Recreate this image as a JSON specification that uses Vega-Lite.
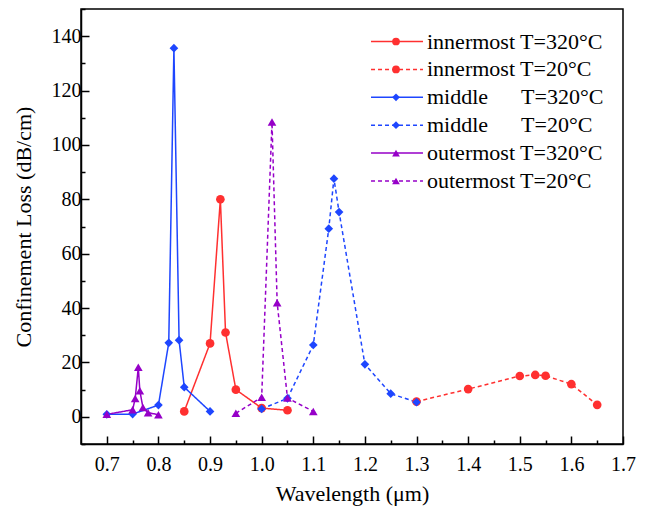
{
  "$schema": "https://vega.github.io/schema/vega-lite/v6.json",
  "width": 542,
  "height": 435,
  "autosize": {"type": "none"},
  "padding": {"left": 81, "top": 9, "right": 23, "bottom": 70},
  "background": "white",
  "config": {
    "font": "Liberation Serif",
    "view": {"stroke": "#000", "strokeWidth": 1.5},
    "axis": {
      "domainColor": "#000", "domainWidth": 1.5,
      "tickColor": "#000", "tickWidth": 1.5,
      "labelColor": "#000", "titleColor": "#000",
      "labelFont": "Liberation Serif", "titleFont": "Liberation Serif",
      "labelFontSize": 20, "titleFontSize": 22, "titleFontWeight": "normal",
      "grid": false
    },
    "legend": {"labelFont": "Liberation Serif", "labelFontSize": 22, "labelLimit": 400, "labelColor": "#000"}
  },
  "data": {
    "values": [
      {"series": "innermost T=320°C", "wl": 0.85, "loss": 2.0},
      {"series": "innermost T=320°C", "wl": 0.90, "loss": 27.0},
      {"series": "innermost T=320°C", "wl": 0.92, "loss": 80.0},
      {"series": "innermost T=320°C", "wl": 0.93, "loss": 31.0},
      {"series": "innermost T=320°C", "wl": 0.95, "loss": 10.0},
      {"series": "innermost T=320°C", "wl": 1.00, "loss": 3.2},
      {"series": "innermost T=320°C", "wl": 1.05, "loss": 2.4},
      {"series": "innermost T=20°C", "wl": 1.30, "loss": 5.6},
      {"series": "innermost T=20°C", "wl": 1.40, "loss": 10.2},
      {"series": "innermost T=20°C", "wl": 1.50, "loss": 15.0},
      {"series": "innermost T=20°C", "wl": 1.53, "loss": 15.4},
      {"series": "innermost T=20°C", "wl": 1.55, "loss": 15.1},
      {"series": "innermost T=20°C", "wl": 1.60, "loss": 12.0},
      {"series": "innermost T=20°C", "wl": 1.65, "loss": 4.4},
      {"series": "middle\u00a0\u00a0\u00a0\u00a0\u00a0\u00a0T=320°C", "wl": 0.70, "loss": 0.9},
      {"series": "middle\u00a0\u00a0\u00a0\u00a0\u00a0\u00a0T=320°C", "wl": 0.75, "loss": 1.0},
      {"series": "middle\u00a0\u00a0\u00a0\u00a0\u00a0\u00a0T=320°C", "wl": 0.80, "loss": 4.3},
      {"series": "middle\u00a0\u00a0\u00a0\u00a0\u00a0\u00a0T=320°C", "wl": 0.82, "loss": 27.2},
      {"series": "middle\u00a0\u00a0\u00a0\u00a0\u00a0\u00a0T=320°C", "wl": 0.83, "loss": 135.6},
      {"series": "middle\u00a0\u00a0\u00a0\u00a0\u00a0\u00a0T=320°C", "wl": 0.84, "loss": 28.2},
      {"series": "middle\u00a0\u00a0\u00a0\u00a0\u00a0\u00a0T=320°C", "wl": 0.85, "loss": 10.9},
      {"series": "middle\u00a0\u00a0\u00a0\u00a0\u00a0\u00a0T=320°C", "wl": 0.90, "loss": 2.0},
      {"series": "middle\u00a0\u00a0\u00a0\u00a0\u00a0\u00a0T=20°C", "wl": 1.00, "loss": 2.9},
      {"series": "middle\u00a0\u00a0\u00a0\u00a0\u00a0\u00a0T=20°C", "wl": 1.05, "loss": 6.8},
      {"series": "middle\u00a0\u00a0\u00a0\u00a0\u00a0\u00a0T=20°C", "wl": 1.10, "loss": 26.4},
      {"series": "middle\u00a0\u00a0\u00a0\u00a0\u00a0\u00a0T=20°C", "wl": 1.13, "loss": 69.2},
      {"series": "middle\u00a0\u00a0\u00a0\u00a0\u00a0\u00a0T=20°C", "wl": 1.14, "loss": 87.6},
      {"series": "middle\u00a0\u00a0\u00a0\u00a0\u00a0\u00a0T=20°C", "wl": 1.15, "loss": 75.3},
      {"series": "middle\u00a0\u00a0\u00a0\u00a0\u00a0\u00a0T=20°C", "wl": 1.20, "loss": 19.3},
      {"series": "middle\u00a0\u00a0\u00a0\u00a0\u00a0\u00a0T=20°C", "wl": 1.25, "loss": 8.5},
      {"series": "middle\u00a0\u00a0\u00a0\u00a0\u00a0\u00a0T=20°C", "wl": 1.30, "loss": 5.4},
      {"series": "outermost T=320°C", "wl": 0.70, "loss": 0.9},
      {"series": "outermost T=320°C", "wl": 0.75, "loss": 2.6},
      {"series": "outermost T=320°C", "wl": 0.755, "loss": 6.7},
      {"series": "outermost T=320°C", "wl": 0.761, "loss": 18.2},
      {"series": "outermost T=320°C", "wl": 0.764, "loss": 9.6},
      {"series": "outermost T=320°C", "wl": 0.77, "loss": 3.4},
      {"series": "outermost T=320°C", "wl": 0.78, "loss": 1.5},
      {"series": "outermost T=320°C", "wl": 0.80, "loss": 0.8},
      {"series": "outermost T=20°C", "wl": 0.95, "loss": 1.3},
      {"series": "outermost T=20°C", "wl": 1.00, "loss": 7.2},
      {"series": "outermost T=20°C", "wl": 1.02, "loss": 108.4},
      {"series": "outermost T=20°C", "wl": 1.03, "loss": 42.0},
      {"series": "outermost T=20°C", "wl": 1.05, "loss": 6.9},
      {"series": "outermost T=20°C", "wl": 1.10, "loss": 2.0}
    ]
  },
  "encoding": {
    "x": {
      "field": "wl", "type": "quantitative",
      "scale": {"domain": [0.65, 1.7], "nice": false, "zero": false},
      "axis": {
        "title": "Wavelength (μm)",
        "values": [0.7, 0.75, 0.8, 0.85, 0.9, 0.95, 1.0, 1.05, 1.1, 1.15, 1.2, 1.25, 1.3, 1.35, 1.4, 1.45, 1.5, 1.55, 1.6, 1.65, 1.7],
        "labelExpr": "abs(round(datum.value*20)) % 2 == 0 ? format(datum.value, '.1f') : ''",
        "tickSize": {"condition": {"test": "abs(round(datum.value*20)) % 2 == 1", "value": -4}, "value": -8},
        "labelFont": "Liberation Serif", "labelFontSize": 20,
        "titleFont": "Liberation Serif", "titleFontSize": 22, "titleFontWeight": "normal",
        "labelPadding": 18,
        "titlePadding": 5,
        "labelOverlap": false,
        "labelFlush": false
      }
    },
    "y": {
      "field": "loss", "type": "quantitative",
      "scale": {"domain": [-10, 150], "nice": false, "zero": false},
      "axis": {
        "title": "Confinement Loss (dB/cm)",
        "values": [-10, 0, 10, 20, 30, 40, 50, 60, 70, 80, 90, 100, 110, 120, 130, 140, 150],
        "labelExpr": "datum.value >= 0 && datum.value % 20 == 0 && datum.value < 150 ? datum.value : ''",
        "tickSize": {"condition": {"test": "datum.value % 20 != 0", "value": -4}, "value": -8},
        "labelFont": "Liberation Serif", "labelFontSize": 20,
        "titleFont": "Liberation Serif", "titleFontSize": 22, "titleFontWeight": "normal",
        "labelPadding": 8,
        "titlePadding": 16,
        "labelOverlap": false
      }
    }
  },
  "layer": [
    {
      "mark": {"type": "line", "strokeWidth": 1.5},
      "encoding": {
        "color": {
          "field": "series", "type": "nominal",
          "scale": {
            "domain": ["innermost T=320°C", "innermost T=20°C", "middle\u00a0\u00a0\u00a0\u00a0\u00a0\u00a0T=320°C", "middle\u00a0\u00a0\u00a0\u00a0\u00a0\u00a0T=20°C", "outermost T=320°C", "outermost T=20°C"],
            "range": ["#FF3030", "#FF3030", "#1E46FF", "#1E46FF", "#9600C8", "#9600C8"]
          },
          "legend": {"title": null, "orient": "none", "legendX": 305, "legendY": 21.5, "symbolType": "M-3,0H3", "symbolSize": 300, "symbolStrokeWidth": 1.5, "labelFontSize": 22, "labelFont": "Liberation Serif", "labelLimit": 400, "labelColor": "#000", "rowPadding": 5.9, "labelOffset": 19, "padding": 0, "offset": 0}
        },
        "strokeDash": {
          "field": "series", "type": "nominal",
          "scale": {
            "domain": ["innermost T=320°C", "innermost T=20°C", "middle\u00a0\u00a0\u00a0\u00a0\u00a0\u00a0T=320°C", "middle\u00a0\u00a0\u00a0\u00a0\u00a0\u00a0T=20°C", "outermost T=320°C", "outermost T=20°C"],
            "range": [[1, 0], [4, 3], [1, 0], [4, 3], [1, 0], [4, 3]]
          },
          "legend": {"title": null, "orient": "none", "legendX": 305, "legendY": 21.5, "symbolType": "M-3,0H3", "symbolSize": 300, "symbolStrokeWidth": 1.5, "labelFontSize": 22, "labelFont": "Liberation Serif", "labelLimit": 400, "labelColor": "#000", "rowPadding": 5.9, "labelOffset": 19, "padding": 0, "offset": 0}
        }
      }
    },
    {
      "mark": {"type": "point", "filled": true, "opacity": 1, "size": 75},
      "encoding": {
        "color": {
          "field": "series", "type": "nominal",
          "legend": {"title": null, "orient": "none", "legendX": 304, "legendY": 21.5, "symbolSize": 60, "labelFontSize": 22, "labelFont": "Liberation Serif", "labelLimit": 400, "labelExpr": "''", "labelOpacity": 0, "rowPadding": 5.9, "labelOffset": 6, "padding": 0, "offset": 0}
        },
        "shape": {
          "field": "series", "type": "nominal",
          "scale": {
            "domain": ["innermost T=320°C", "innermost T=20°C", "middle\u00a0\u00a0\u00a0\u00a0\u00a0\u00a0T=320°C", "middle\u00a0\u00a0\u00a0\u00a0\u00a0\u00a0T=20°C", "outermost T=320°C", "outermost T=20°C"],
            "range": ["circle", "circle", "diamond", "diamond", "triangle-up", "triangle-up"]
          },
          "legend": {"title": null, "orient": "none", "legendX": 304, "legendY": 21.5, "symbolSize": 60, "labelFontSize": 22, "labelFont": "Liberation Serif", "labelLimit": 400, "labelExpr": "''", "labelOpacity": 0, "rowPadding": 5.9, "labelOffset": 6, "padding": 0, "offset": 0}
        }
      }
    }
  ],
  "resolve": {"legend": {"color": "independent", "shape": "independent", "strokeDash": "independent"}}
}
